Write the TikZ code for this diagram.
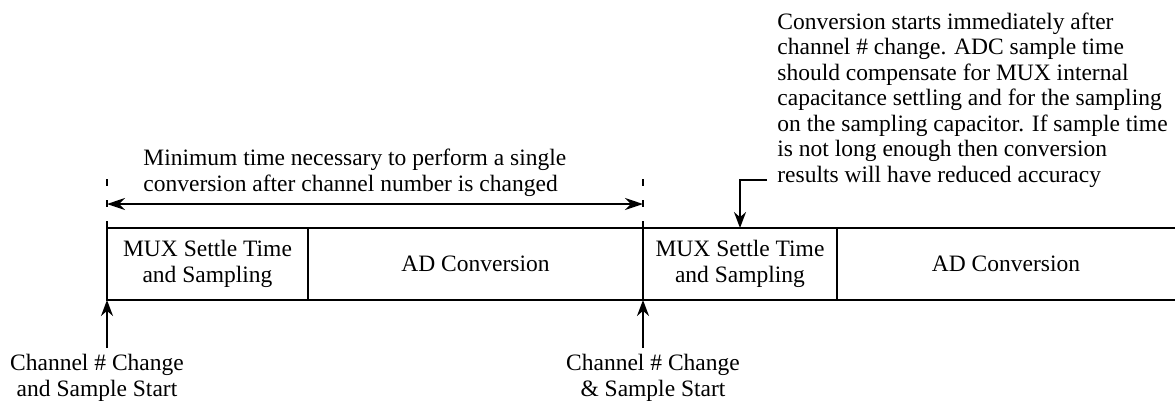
\documentclass[tikz,border=0pt]{standalone}
\usepackage{fontspec}
\setmainfont{Liberation Serif}
\usepackage{tikz}
\usetikzlibrary{arrows.meta,positioning,calc}

\begin{document}
\begin{tikzpicture}[
    x=0.5pt, y=-0.5pt,
    every node/.style={font=\fontsize{11.75pt}{12.75pt}\selectfont, inner sep=0pt},
    cell/.style={rectangle, draw, line width=1pt, outer sep=0pt, minimum height=36pt, align=center},
    opencell/.style={rectangle, outer sep=0pt, minimum height=36pt, align=center},
    note/.style={align=left},
    label/.style={align=center},
    arrow/.style={-{Stealth[length=8pt, width=6pt]}, line width=1pt},
    span/.style={{Stealth[length=9pt, width=6pt]}-{Stealth[length=9pt, width=6pt]}, line width=1pt},
    tick/.style={line width=1pt, dash pattern=on 3.5pt off 7pt}
]
\useasboundingbox (0,0) rectangle (1175,404);

% Conversion cells along the time line
\node[cell, minimum width=100.5pt] (mux1) at (207.5,264) {MUX Settle Time\\and Sampling};
\node[cell, minimum width=167.5pt] (ad1) at (475.5,264) {AD Conversion};
\node[cell, minimum width=97pt] (mux2) at (740,264) {MUX Settle Time\\and Sampling};
\node[opencell, minimum width=169pt] (ad2) at (1006,264) {AD Conversion};
\draw[line width=1pt] (mux2.north east) -- (mux2.north east -| ad2.east);
\draw[line width=1pt] (mux2.south east) -- (mux2.south east -| ad2.east);

% Channel change markers
\node[label, anchor=north] (chg1) at (97,354) {Channel \# Change\\and Sample Start};
\node[label, anchor=north] (chg2) at (653,354) {Channel \# Change\\\& Sample Start};
\coordinate (up1) at (107,348);
\coordinate (up2) at (643,348);
\draw[arrow] (up1) -- (mux1.south west);
\draw[arrow] (up2) -- (ad1.south east);

% Minimum conversion time
\coordinate (tk1) at (107,179);
\coordinate (tk2) at (643,179);
\draw[tick] (tk1) -- (mux1.north west);
\draw[tick] (tk2) -- (ad1.north east);
\coordinate (sp1) at (107,204);
\coordinate (sp2) at (643,204);
\draw[span] (sp1) -- (sp2);
\node[note, anchor=west] (mintime) at (143,173) {Minimum time necessary to perform a single\\conversion after channel number is changed};

% Sample time remark
\node[note, anchor=west] (remark) at (777,100) {Conversion starts immediately after\\channel \# change. ADC sample time\\should compensate for MUX internal\\capacitance settling and for the sampling\\on the sampling capacitor. If sample time\\is not long enough then conversion\\results will have reduced accuracy};
\coordinate (bend) at (767,180);
\draw[arrow] (bend) -| (mux2.north);
\end{tikzpicture}
\end{document}
